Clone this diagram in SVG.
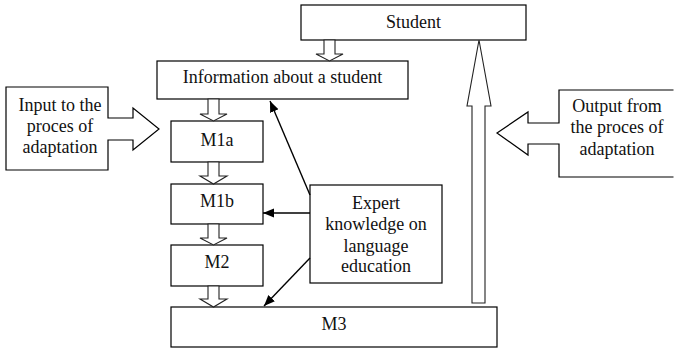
<svg xmlns="http://www.w3.org/2000/svg" width="674" height="349" viewBox="0 0 674 349">
<style>
.box{fill:#fff;stroke:#000;stroke-width:1.2}
.hollow{fill:#fff;stroke:#222;stroke-width:1.1;stroke-linejoin:miter}
.t{font-family:'Liberation Serif',serif;font-size:18px;fill:#111;text-anchor:middle}
.con{stroke:#000;stroke-width:1.4;fill:none}
</style>
<defs>
<marker id="ah" markerUnits="userSpaceOnUse" markerWidth="12" markerHeight="10" refX="11" refY="4.5" orient="auto">
<path d="M0,0 L11,4.5 L0,9 Z" fill="#000"/>
</marker>
</defs>
<rect width="674" height="349" fill="#fff"/>

<g id="student">
<rect class="box" x="301" y="5" width="225" height="35"/>
<text class="t" x="413.5" y="28">Student</text>
</g>
<g id="info">
<rect class="box" x="157" y="61" width="251" height="38"/>
<text class="t" x="282.5" y="83">Information about a student</text>
</g>
<g id="m1a">
<rect class="box" x="171" y="121" width="92" height="41"/>
<text class="t" x="217" y="146">M1a</text>
</g>
<g id="m1b">
<rect class="box" x="171" y="184" width="92" height="40"/>
<text class="t" x="217" y="207">M1b</text>
</g>
<g id="m2">
<rect class="box" x="171" y="245" width="92" height="41"/>
<text class="t" x="217" y="268">M2</text>
</g>
<g id="m3">
<rect class="box" x="171" y="307" width="326" height="40"/>
<text class="t" x="334" y="330">M3</text>
</g>
<g id="expert">
<rect class="box" x="310" y="185" width="132" height="98"/>
<text class="t" x="376" y="209">Expert</text>
<text class="t" x="376" y="230">knowledge on</text>
<text class="t" x="376" y="252">language</text>
<text class="t" x="376" y="272">education</text>
</g>
<g id="input">
<path class="box" d="M6,87 H108 V118 H133 V108 L159,129 L133,150 V140 H108 V170 H6 Z"/>
<text class="t" x="60" y="111">Input to the</text>
<text class="t" x="60" y="132">proces of</text>
<text class="t" x="60" y="153">adaptation</text>
</g>
<g id="output">
<path class="box" d="M673.5,90 H559 V123 H528 V112 L497,133 L528,155 V144 H559 V177 H673.5"/>
<text class="t" x="617" y="112">Output from</text>
<text class="t" x="617" y="133">the proces of</text>
<text class="t" x="617" y="155">adaptation</text>
</g>

<g id="connectors">
<polygon class="hollow" points="324,40 335,40 335,54 343,54 329.5,61 316,54 324,54"/>
<polygon class="hollow" points="208,99 219,99 219,114 227,114 213.5,121 200,114 208,114"/>
<polygon class="hollow" points="208,162 219,162 219,176 227,176 213.5,184 200,176 208,176"/>
<polygon class="hollow" points="208,224 219,224 219,238 227,238 213.5,245 200,238 208,238"/>
<polygon class="hollow" points="208,286 219,286 219,299 227,299 213.5,307 200,299 208,299"/>
<polygon class="hollow" points="472,303 485,303 485,106 491,106 479,40 467,106 472,106"/>
<line class="con" x1="310" y1="195" x2="270" y2="101" marker-end="url(#ah)"/>
<line class="con" x1="310" y1="213" x2="263" y2="213" marker-end="url(#ah)"/>
<line class="con" x1="310" y1="258" x2="264" y2="306" marker-end="url(#ah)"/>
</g>
</svg>
